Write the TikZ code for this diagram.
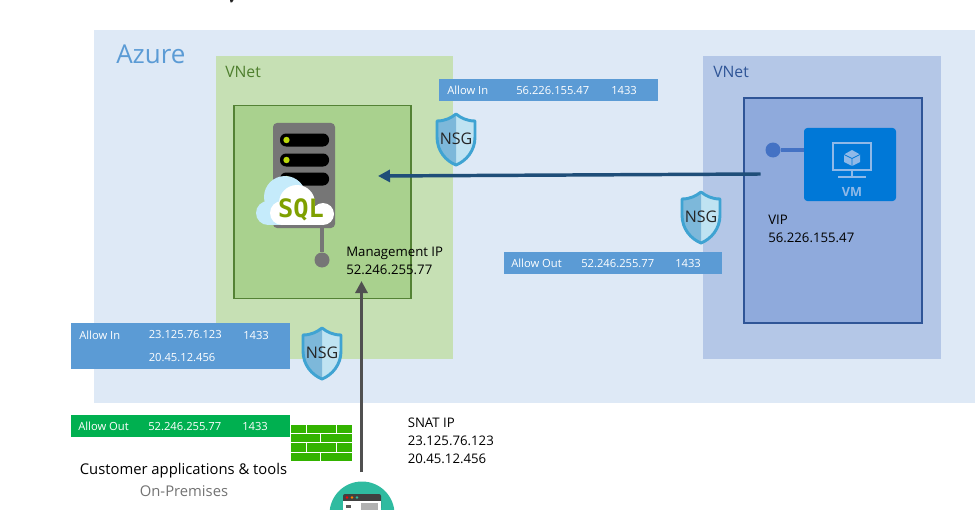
\documentclass[tikz,border=0pt]{standalone}
\usepackage{fontspec}
\setmainfont{Open Sans}
\newfontfamily\sqlfont{DejaVu Sans Mono}[BoldFont=DejaVu Sans Mono Bold]
\usetikzlibrary{arrows.meta}
\definecolor{azurebg}{HTML}{DEE9F6}
\definecolor{azuretxt}{HTML}{5B9BD5}
\definecolor{gnet}{HTML}{C6E0B4}
\definecolor{gsub}{HTML}{A9D18E}
\definecolor{gedge}{HTML}{548235}
\definecolor{gtxt}{HTML}{4E7F2E}
\definecolor{bnet}{HTML}{B4C7E7}
\definecolor{bsub}{HTML}{8FAADC}
\definecolor{bedge}{HTML}{2F5597}
\definecolor{btxt}{HTML}{2F5597}
\definecolor{rulebar}{HTML}{5B9BD5}
\definecolor{outbar}{HTML}{00B050}
\definecolor{wall}{HTML}{33B300}
\definecolor{vmblue}{HTML}{0078D7}
\definecolor{vmicon}{HTML}{8FB9E8}
\definecolor{dotblue}{HTML}{4472C4}
\definecolor{arrowblue}{HTML}{1F4E79}
\definecolor{arrowgray}{HTML}{505050}
\definecolor{srv}{HTML}{767676}
\definecolor{lime}{HTML}{BAD80A}
\definecolor{sqlgreen}{HTML}{7FA000}
\definecolor{cloudblue}{HTML}{C5EBFB}
\definecolor{shieldedge}{HTML}{3FA3D2}
\definecolor{shieldl}{HTML}{7DB8DA}
\definecolor{shieldr}{HTML}{BFE3F2}
\definecolor{teal}{HTML}{2FBBA0}
\tikzset{
  x=0.75pt,y=-0.75pt,
  zone/.style={anchor=north west,inner sep=0,outer sep=0},
  lbl/.style={anchor=west,inner sep=0,font=\fontsize{9.9}{13.4}\selectfont,text=black,align=left},
  rule/.style={anchor=west,inner sep=0,font=\fontsize{8.4}{11}\selectfont,text=white},
  vnetlbl/.style={anchor=west,inner sep=0,font=\fontsize{11.8}{14}\selectfont},
  flow/.style={line width=2.6pt,-{Triangle[length=9pt,width=9pt]}},
  nsgtext/.style={inner sep=0,font=\fontsize{12}{13}\selectfont,text=black!85},
}
\newcommand{\rbar}[6]{\node[zone,minimum width=#3*0.75pt,minimum height=#4*0.75pt,fill=#5] (#6) at (#1,#2) {};}
\newcommand{\nsg}[2]{%
  \begin{scope}[shift={(#1,#2)}]
    \fill[shieldr] (0,-25) -- (0,26) .. controls (10,22) and (19,12) .. (19,-2) -- (19,-18) .. controls (10,-18) and (5,-21) .. (0,-25) -- cycle;
    \fill[shieldl] (0,-25) -- (0,26) .. controls (-10,22) and (-19,12) .. (-19,-2) -- (-19,-18) .. controls (-10,-18) and (-5,-21) .. (0,-25) -- cycle;
    \draw[shieldedge,line width=2.2pt,line join=round] (0,-25) .. controls (5,-21) and (11,-18) .. (19,-18) -- (19,-2) .. controls (19,12) and (10,22) .. (0,26) .. controls (-10,22) and (-19,12) .. (-19,-2) -- (-19,-18) .. controls (-11,-18) and (-5,-21) .. (0,-25) -- cycle;
    \node[nsgtext] (nsg#1) at (0,0) {NSG};
  \end{scope}}
\begin{document}
\begin{tikzpicture}
\useasboundingbox (0,0) rectangle (975,510);
\clip (0,0) rectangle (975,510);
\fill[white] (0,0) rectangle (975,510);
\fill[black!85] (230,0) -- (233.500,0) -- (232,2.500) -- (230.500,2.500) -- cycle;
% zones
\rbar{94}{30}{881}{373}{azurebg}{azure}
\rbar{216}{56}{237}{303}{gnet}{gvnet}
\rbar{703}{56}{238}{303}{bnet}{bvnet}
\node[zone,minimum width=177*0.75pt,minimum height=193*0.75pt,fill=gsub,draw=gedge,line width=0.8pt] (gsubnet) at (234,105.5) {};
\node[zone,minimum width=178*0.75pt,minimum height=225*0.75pt,fill=bsub,draw=bedge,line width=0.8pt] (bsubnet) at (744,98) {};
\node[anchor=west,inner sep=0,font=\fontsize{19.5}{24}\selectfont,text=azuretxt] (azlbl) at (116,54) {Azure};
\node[vnetlbl,text=gtxt] (gl) at (225,72) {VNet};
\node[vnetlbl,text=btxt] (bl) at (713,72) {VNet};
% rule bars
\rbar{439}{79}{219}{22}{rulebar}{r1}
\rbar{504}{252}{218}{22}{rulebar}{r2}
\rbar{71}{323}{219}{46}{rulebar}{r3}
\rbar{71}{415}{219}{22}{outbar}{r4}
\node[rule] (t1a) at (447,90.500) {Allow In};
\node[rule] (t1b) at (516,90.500) {56.226.155.47};
\node[rule] (t1c) at (611,90.500) {1433};
\node[rule] (t2a) at (511,263.500) {Allow Out};
\node[rule] (t2b) at (581,263.500) {52.246.255.77};
\node[rule] (t2c) at (675,263.500) {1433};
\node[rule] (t3a) at (79,335) {Allow In};
\node[rule] (t3b) at (148.500,335) {23.125.76.123};
\node[rule] (t3c) at (243,335) {1433};
\node[rule] (t3d) at (148.500,358) {20.45.12.456};
\node[rule] (t4a) at (78,426.500) {Allow Out};
\node[rule] (t4b) at (148,426.500) {52.246.255.77};
\node[rule] (t4c) at (242,426.500) {1433};
% shields
\nsg{456}{139}
\nsg{701}{217}
\nsg{322}{353}
% server
\fill[srv,rounded corners=3pt] (273,123) rectangle (335,228);
\foreach \yy/\nn in {140/a,160/b,179/c}{
  \fill[black,rounded corners=4.5pt] (280,\yy-6.500) rectangle (329,\yy+6.500);
  \fill[lime] (286.500,\yy) circle (3.200);
}
\fill[cloudblue] (285,197) circle (21);
\fill[cloudblue] (268,213) circle (12);
\fill[cloudblue] (268,215) rectangle (300,225);
\fill[white] (297,203) circle (18);
\fill[white] (282,213) circle (12);
\fill[white] (323,214) circle (11);
\fill[white] (282,210) rectangle (323,225);
\node[inner sep=0,font=\sqlfont\bfseries\fontsize{19}{20}\selectfont,text=sqlgreen] (sql) at (301,209.500) {SQL};
\coordinate (srvb) at (322,228);
\node[circle,fill=srv,minimum size=15*0.75pt,inner sep=0] (srvdot) at (322,260) {};
\draw[srv,line width=2.3pt] (srvb) -- (srvdot);
% VM
\node[zone,minimum width=92*0.75pt,minimum height=73*0.75pt,fill=vmblue,rounded corners=2.5pt] (vm) at (804,128) {};
\node[circle,fill=dotblue,minimum size=15*0.75pt,inner sep=0] (vmdot) at (773,150) {};
\draw[dotblue,line width=2.3pt] (vmdot) -- (vm.west |- vmdot);
\draw[vmicon,line width=2.2pt] (833,143) rectangle (871,170);
\draw[vmicon,line width=2.2pt] (852,171) -- (852,177);
\draw[vmicon,line width=2.2pt] (838,177) -- (866,177);
\fill[vmicon] (852,150) -- (860,154.500) -- (860,162) -- (852,166) -- (844,162) -- (844,154.500) -- cycle;
\draw[vmblue,line width=0.6pt] (844,154.500) -- (852,158.500) -- (860,154.500) (852,158.500) -- (852,166);
\node[inner sep=0,font=\fontsize{9.5}{11}\bfseries\selectfont,text=vmicon] (vmt) at (852,191.500) {VM};
% firewall
\fill[wall] (291,424.500) rectangle (352,460.500);
\foreach \yy in {433.500,442.500,452}{\draw[white,line width=0.7pt] (291,\yy) -- (352,\yy);}
\foreach \xx in {306.500,336}{\draw[white,line width=0.7pt] (\xx,424) -- (\xx,433.500) (\xx,442.500) -- (\xx,452);}
\draw[white,line width=0.7pt] (320.500,433.500) -- (320.500,442.500) (320.500,452) -- (320.500,460.500);
% teal client icon
\node[circle,fill=teal,minimum size=65*0.75pt,inner sep=0] (client) at (362,514) {};
\fill[black!75,rounded corners=1.5pt] (343,494) rectangle (381,510);
\fill[white] (343,501) rectangle (381,510);
\fill[black!30] (361,503) rectangle (378,510);
\fill[black!65] (346,505) rectangle (351,508);
\foreach \xx/\cc in {347/red,352/orange,357/teal}{\fill[\cc] (\xx,497.500) circle (1.300);}
% arrows
\coordinate (bluestart) at (760.500,174);
\coordinate (blueend) at (378,176);
\draw[flow,arrowblue] (bluestart) -- (blueend);
\coordinate (graystart) at (361.500,472);
\coordinate (grayend) at (361.500,281);
\draw[flow,arrowgray] (graystart) -- (grayend);
% labels
\node[lbl] (mgmt) at (346,261) {Management IP\\52.246.255.77};
\node[lbl] (vip) at (768,229) {VIP\\56.226.155.47};
\node[lbl] (snat) at (407.500,441) {SNAT IP\\23.125.76.123\\20.45.12.456};
\node[inner sep=0,font=\fontsize{11.1}{14}\selectfont] (cust) at (183.500,470.500) {Customer applications \& tools};
\node[inner sep=0,font=\fontsize{11.1}{13}\selectfont,text=black!55] (onp) at (184,491) {On-Premises};
\end{tikzpicture}
\end{document}
